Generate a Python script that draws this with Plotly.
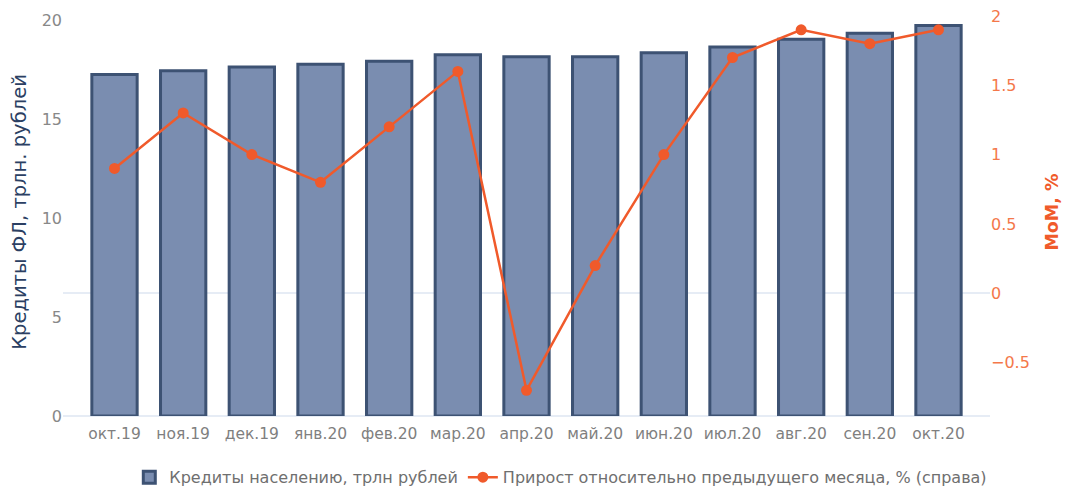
import plotly.graph_objects as go

months = ["окт.19", "ноя.19", "дек.19", "янв.20", "фев.20", "мар.20", "апр.20",
          "май.20", "июн.20", "июл.20", "авг.20", "сен.20", "окт.20"]
loans = [17.29, 17.47, 17.67, 17.80, 17.96, 18.28, 18.18, 18.18, 18.38, 18.68, 19.07, 19.37, 19.76]
mom = [0.9, 1.3, 1.0, 0.8, 1.2, 1.6, -0.7, 0.2, 1.0, 1.7, 1.9, 1.8, 1.9]

bar_name = "Кредиты населению, трлн рублей"
line_name = "Прирост относительно предыдущего месяца, % (справа)"

FONT = "DejaVu Sans"
NAVY = "#2b3f63"
ORANGE = "#f05a2b"

fig = go.Figure()
fig.add_trace(go.Bar(
    x=months, y=loans, name=bar_name,
    marker=dict(color="#7a8db0", line=dict(color="#3d5273", width=3)),
    yaxis="y",
))
fig.add_trace(go.Scatter(
    x=months, y=mom, name=line_name, mode="lines+markers",
    line=dict(color=ORANGE, width=2.5),
    marker=dict(color=ORANGE, size=11),
    yaxis="y2",
))

fig.update_layout(
    width=1067, height=489,
    margin=dict(l=63, r=77, t=8, b=73, autoexpand=False),
    paper_bgcolor="white", plot_bgcolor="white",
    font=dict(family=FONT, size=14, color="#7f7f7f"),
    bargap=0.34,
    showlegend=True,
    legend=dict(orientation="h", x=0.537, xanchor="center",
                yref="container", y=0.024, yanchor="middle",
                font=dict(family=FONT, size=16, color="#6f6f6f")),
    xaxis=dict(range=[-0.75, 12.75], showgrid=False, showline=False, ticks="",
               ticklabelstandoff=6,
               tickfont=dict(family=FONT, size=15.5, color="#7f7f7f")),
    yaxis=dict(range=[0, 20.65], tickvals=[0, 5, 10, 15, 20], showgrid=False,
               zeroline=True, zerolinecolor="#e6ecf5", zerolinewidth=2,
               showline=False, ticks="",
               tickfont=dict(family=FONT, size=16, color="#888888"),
               title=dict(text="Кредиты ФЛ, трлн. рублей",
                          font=dict(family=FONT, size=19.5, color=NAVY), standoff=9)),
    yaxis2=dict(range=[-0.885, 2.057], tickvals=[-0.5, 0, 0.5, 1, 1.5, 2],
                ticktext=["\u22120.5", "0", "0.5", "1", "1.5", "2"],
                overlaying="y", side="right", showgrid=False,
                zeroline=True, zerolinecolor="#e6ecf5", zerolinewidth=2,
                showline=False, ticks="",
                tickfont=dict(family=FONT, size=16, color="#f4784a"),
                title=dict(text="<b>MoM, %</b>",
                           font=dict(family=FONT, size=17.5, color=ORANGE), standoff=16)),
)

fig.write_html("out.html")
